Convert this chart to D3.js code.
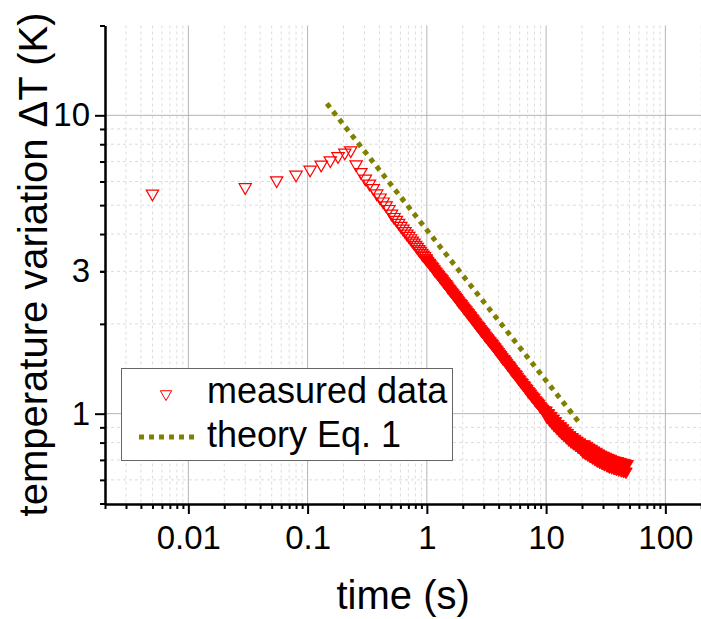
<!DOCTYPE html>
<html lang="en">
<head>
  <meta charset="UTF-8">
  <title>Temperature decay</title>
  <script src="https://d3js.org/d3.v7.min.js"></script>
  <style>
  body { margin: 0; background: #fff; }
  text { font-family: "Liberation Sans", Arial, sans-serif; fill: #000; }
  </style>
</head>
<body>

<div id="chart"></div>

<script type="text/javascript">

// measured data, sampled every 0.025 s at first
const earlyTime = [0.005, 0.03, 0.055, 0.08, 0.105, 0.13, 0.155, 0.18, 0.205, 0.23,
  0.255, 0.28, 0.305, 0.33, 0.355, 0.38, 0.405, 0.43, 0.455, 0.48,
  0.505, 0.53, 0.555, 0.58, 0.605, 0.63, 0.655, 0.68, 0.705, 0.73,
  0.755, 0.78, 0.805, 0.83, 0.855, 0.88, 0.905, 0.93, 0.955, 0.98];
const earlyTemp = [5.46, 5.74, 6.05, 6.32, 6.57, 6.83, 7.06, 7.29, 7.50, 7.63,
  6.85, 6.45, 6.13, 5.90, 5.70, 5.47, 5.30, 5.14, 4.99, 4.85,
  4.68, 4.56, 4.46, 4.36, 4.26, 4.17, 4.09, 4.01, 3.94, 3.87,
  3.80, 3.74, 3.68, 3.62, 3.56, 3.51, 3.46, 3.41, 3.37, 3.32];

const lateTime = [1, 1.02, 1.05, 1.07, 1.1, 1.12, 1.15, 1.17, 1.2, 1.23,
  1.26, 1.29, 1.32, 1.35, 1.38, 1.41, 1.45, 1.48, 1.51, 1.55,
  1.58, 1.62, 1.66, 1.7, 1.74, 1.78, 1.82, 1.86, 1.91, 1.95,
  2, 2.04, 2.09, 2.14, 2.19, 2.24, 2.29, 2.34, 2.4, 2.45,
  2.51, 2.57, 2.63, 2.69, 2.75, 2.82, 2.88, 2.95, 3.02, 3.09,
  3.16, 3.24, 3.31, 3.39, 3.47, 3.55, 3.63, 3.72, 3.8, 3.89,
  3.98, 4.07, 4.17, 4.27, 4.37, 4.47, 4.57, 4.68, 4.79, 4.9,
  5.01, 5.13, 5.25, 5.37, 5.5, 5.62, 5.75, 5.89, 6.03, 6.17,
  6.31, 6.46, 6.61, 6.76, 6.92, 7.08, 7.24, 7.41, 7.59, 7.76,
  7.94, 8.13, 8.32, 8.51, 8.71, 8.91, 9.12, 9.33, 9.55, 9.77,
  10, 10.2, 10.5, 10.7, 11, 11.2, 11.5, 11.7, 12, 12.3,
  12.6, 12.9, 13.2, 13.5, 13.8, 14.1, 14.5, 14.8, 15.1, 15.5,
  15.8, 16.2, 16.6, 17, 17.4, 17.8, 18.2, 18.6, 19.1, 19.5,
  20, 20.4, 20.9, 21.4, 21.9, 22.4, 22.9, 23.4, 24, 24.5,
  25.1, 25.7, 26.3, 26.9, 27.5, 28.2, 28.8, 29.5, 30.2, 30.9,
  31.6, 32.4, 33.1, 33.9, 34.7, 35.5, 36.3, 37.2, 38, 38.9,
  39.8, 40.7, 41.7, 42.7, 43.7, 44.7, 45.7, 46.8, 47.9];
const lateTemp = [3.29, 3.25, 3.21, 3.17, 3.13, 3.10, 3.06, 3.02, 2.99, 2.95,
  2.92, 2.88, 2.85, 2.82, 2.78, 2.75, 2.72, 2.69, 2.65, 2.62,
  2.59, 2.56, 2.53, 2.50, 2.47, 2.44, 2.41, 2.38, 2.35, 2.33,
  2.30, 2.27, 2.25, 2.22, 2.19, 2.17, 2.14, 2.12, 2.09, 2.07,
  2.04, 2.02, 1.99, 1.97, 1.95, 1.92, 1.90, 1.88, 1.86, 1.83,
  1.81, 1.79, 1.77, 1.75, 1.73, 1.71, 1.69, 1.67, 1.65, 1.63,
  1.61, 1.59, 1.57, 1.55, 1.53, 1.52, 1.50, 1.48, 1.46, 1.45,
  1.43, 1.41, 1.39, 1.38, 1.36, 1.35, 1.33, 1.31, 1.30, 1.28,
  1.27, 1.25, 1.24, 1.22, 1.21, 1.19, 1.18, 1.167, 1.15, 1.14,
  1.13, 1.11, 1.10, 1.09, 1.08, 1.06, 1.05, 1.04, 1.03, 1.02,
  1.025, 0.975, 1.004, 0.955, 0.983, 0.935, 0.963, 0.916, 0.944, 0.898,
  0.924, 0.880, 0.908, 0.864, 0.893, 0.850, 0.877, 0.835, 0.862, 0.820,
  0.847, 0.808, 0.835, 0.797, 0.824, 0.786, 0.812, 0.775, 0.801, 0.764,
  0.789, 0.747, 0.789, 0.738, 0.780, 0.730, 0.770, 0.722, 0.762, 0.714,
  0.753, 0.705, 0.745, 0.697, 0.736, 0.690, 0.729, 0.684, 0.723, 0.678,
  0.717, 0.672, 0.711, 0.666, 0.706, 0.662, 0.700, 0.658, 0.696, 0.654,
  0.693, 0.651, 0.689, 0.647, 0.685, 0.643, 0.682, 0.640, 0.678];

// theory Eq. 1 (straight line on log-log)
const theoryTime = [0.145, 18.9];
const theoryTemp = [10.95, 0.935];

// ticks
const xMajor = [0.01, 0.1, 1, 10, 100];
const xLabels = ["0.01", "0.1", "1", "10", "100"];
const yMajor = [1, 3, 10];
const yLabels = ["1", "3", "10"];

const legendNames = ["measured data", "theory Eq. 1"];

const W = 701, H = 619;
const plotL = 105, plotR = 701.25, plotT = 25.5, plotB = 503.5;

const svg = d3.select("#chart").append("svg")
  .attr("width", W)
  .attr("height", H);

const x = d3.scaleLog().domain([0.002, 200]).range([plotL, plotR]);
const y = d3.scaleLog().domain([0.5, 20]).range([plotB, plotT]);

// minor tick positions for each decade
const xMinor = [];
[0.001, 0.01, 0.1, 1, 10, 100].forEach(d => {
  for (let m = 2; m <= 9; m++) {
    const v = d * m;
    if (v >= 0.002 && v <= 200) xMinor.push(+v.toPrecision(3));
  }
});
const yMinor = [0.5, 0.6, 0.7, 0.8, 0.9, 2, 3, 4, 5, 6, 7, 8, 9, 20];
const yGridMajor = [1, 10];

// grid
const grid = svg.append("g");
grid.selectAll(".vminor").data(xMinor).enter().append("line")
  .attr("x1", d => x(d)).attr("x2", d => x(d))
  .attr("y1", plotT).attr("y2", plotB)
  .attr("stroke", "#dcdcdc").attr("stroke-dasharray", "3,3");
grid.selectAll(".hminor").data(yMinor.filter(d => d < 20 && d > 0.5)).enter().append("line")
  .attr("x1", plotL).attr("x2", W)
  .attr("y1", d => y(d)).attr("y2", d => y(d))
  .attr("stroke", "#dcdcdc").attr("stroke-dasharray", "3,3");
grid.selectAll(".vmajor").data(xMajor).enter().append("line")
  .attr("x1", d => x(d)).attr("x2", d => x(d))
  .attr("y1", plotT).attr("y2", plotB)
  .attr("stroke", "#b4b4b4");
grid.selectAll(".hmajor").data(yGridMajor).enter().append("line")
  .attr("x1", plotL).attr("x2", W)
  .attr("y1", d => y(d)).attr("y2", d => y(d))
  .attr("stroke", "#b4b4b4");

// theory line
const theory = theoryTime.map((t, i) => ({t: t, v: theoryTemp[i]}));
svg.append("path")
  .datum(theory)
  .attr("d", d3.line().x(d => x(d.t)).y(d => y(d.v)))
  .attr("fill", "none")
  .attr("stroke", "#808000")
  .attr("stroke-width", 5)
  .attr("stroke-dasharray", "5,5");

// measured points; in the dense part the open symbols overlap into a solid band
const early = earlyTime.map((t, i) => ({t: t, v: earlyTemp[i]}));
const late = lateTime.map((t, i) => ({t: t, v: lateTemp[i]}));
const tri = d3.symbol(d3.symbolTriangle, 66);

svg.append("g").selectAll("path").data(late).enter().append("path")
  .attr("d", tri)
  .attr("transform", d => `translate(${x(d.t)},${y(d.v)}) rotate(180)`)
  .attr("fill", "#ff0000")
  .attr("stroke", "#ff0000")
  .attr("stroke-width", 1);

svg.append("g").selectAll("path").data(early).enter().append("path")
  .attr("d", tri)
  .attr("transform", d => `translate(${x(d.t)},${y(d.v)}) rotate(180)`)
  .attr("fill", "none")
  .attr("stroke", "#ff0000")
  .attr("stroke-width", 1.2);

// axes
const xAxisMinor = d3.axisBottom(x).tickValues(xMinor).tickSize(5).tickFormat("").tickSizeOuter(0);
const xAxisMajor = d3.axisBottom(x).tickValues(xMajor).tickSize(10).tickPadding(11.5)
  .tickFormat((d, i) => xLabels[i]).tickSizeOuter(0);
const yAxisMinor = d3.axisLeft(y).tickValues(yMinor).tickSize(5).tickFormat("").tickSizeOuter(0);
const yAxisMajor = d3.axisLeft(y).tickValues(yMajor).tickSize(10).tickPadding(5)
  .tickFormat((d, i) => yLabels[i]).tickSizeOuter(0);

const xg = svg.append("g").attr("transform", `translate(0,${plotB + 0.5})`);
xg.append("g").call(xAxisMinor);
xg.append("g").call(xAxisMajor);
const yg = svg.append("g").attr("transform", `translate(${plotL},0)`);
yg.append("g").call(yAxisMinor);
yg.append("g").call(yAxisMajor);

svg.selectAll(".domain").attr("stroke", "#000").attr("stroke-width", 2);
svg.selectAll(".tick line").attr("stroke", "#000").attr("stroke-width", 2);
svg.selectAll(".tick text").attr("font-size", 33).attr("fill", "#000")
  .attr("font-family", "'Liberation Sans', Arial, sans-serif");
// the "3" on y is a label only (no major tick there)
yg.selectAll(".tick").filter(d => d === 3).select("line").attr("x2", -5);

// axis titles
svg.append("text")
  .attr("x", (plotL + plotR) / 2)
  .attr("y", 609)
  .attr("text-anchor", "middle")
  .attr("font-size", 40)
  .text("time (s)");

svg.append("text")
  .attr("transform", `translate(47,${(plotT + plotB) / 2}) rotate(-90)`)
  .attr("text-anchor", "middle")
  .attr("font-size", 40)
  .text("temperature variation \u0394T (K)");

// legend
const legend = svg.append("g");
legend.append("rect")
  .attr("x", 121.5).attr("y", 368.5)
  .attr("width", 331).attr("height", 92)
  .attr("fill", "#fff")
  .attr("stroke", "#666");
legend.append("path")
  .attr("d", d3.symbol(d3.symbolTriangle, 56))
  .attr("transform", "translate(166,394) rotate(180)")
  .attr("fill", "none")
  .attr("stroke", "#ff0000");
legend.append("line")
  .attr("x1", 139).attr("x2", 196)
  .attr("y1", 437).attr("y2", 437)
  .attr("stroke", "#808000")
  .attr("stroke-width", 5)
  .attr("stroke-dasharray", "5,5");
legend.selectAll("text").data(legendNames).enter().append("text")
  .attr("x", 207)
  .attr("y", (d, i) => 403 + i * 44)
  .attr("font-size", 36)
  .text(d => d);

</script>
</body>
</html>
